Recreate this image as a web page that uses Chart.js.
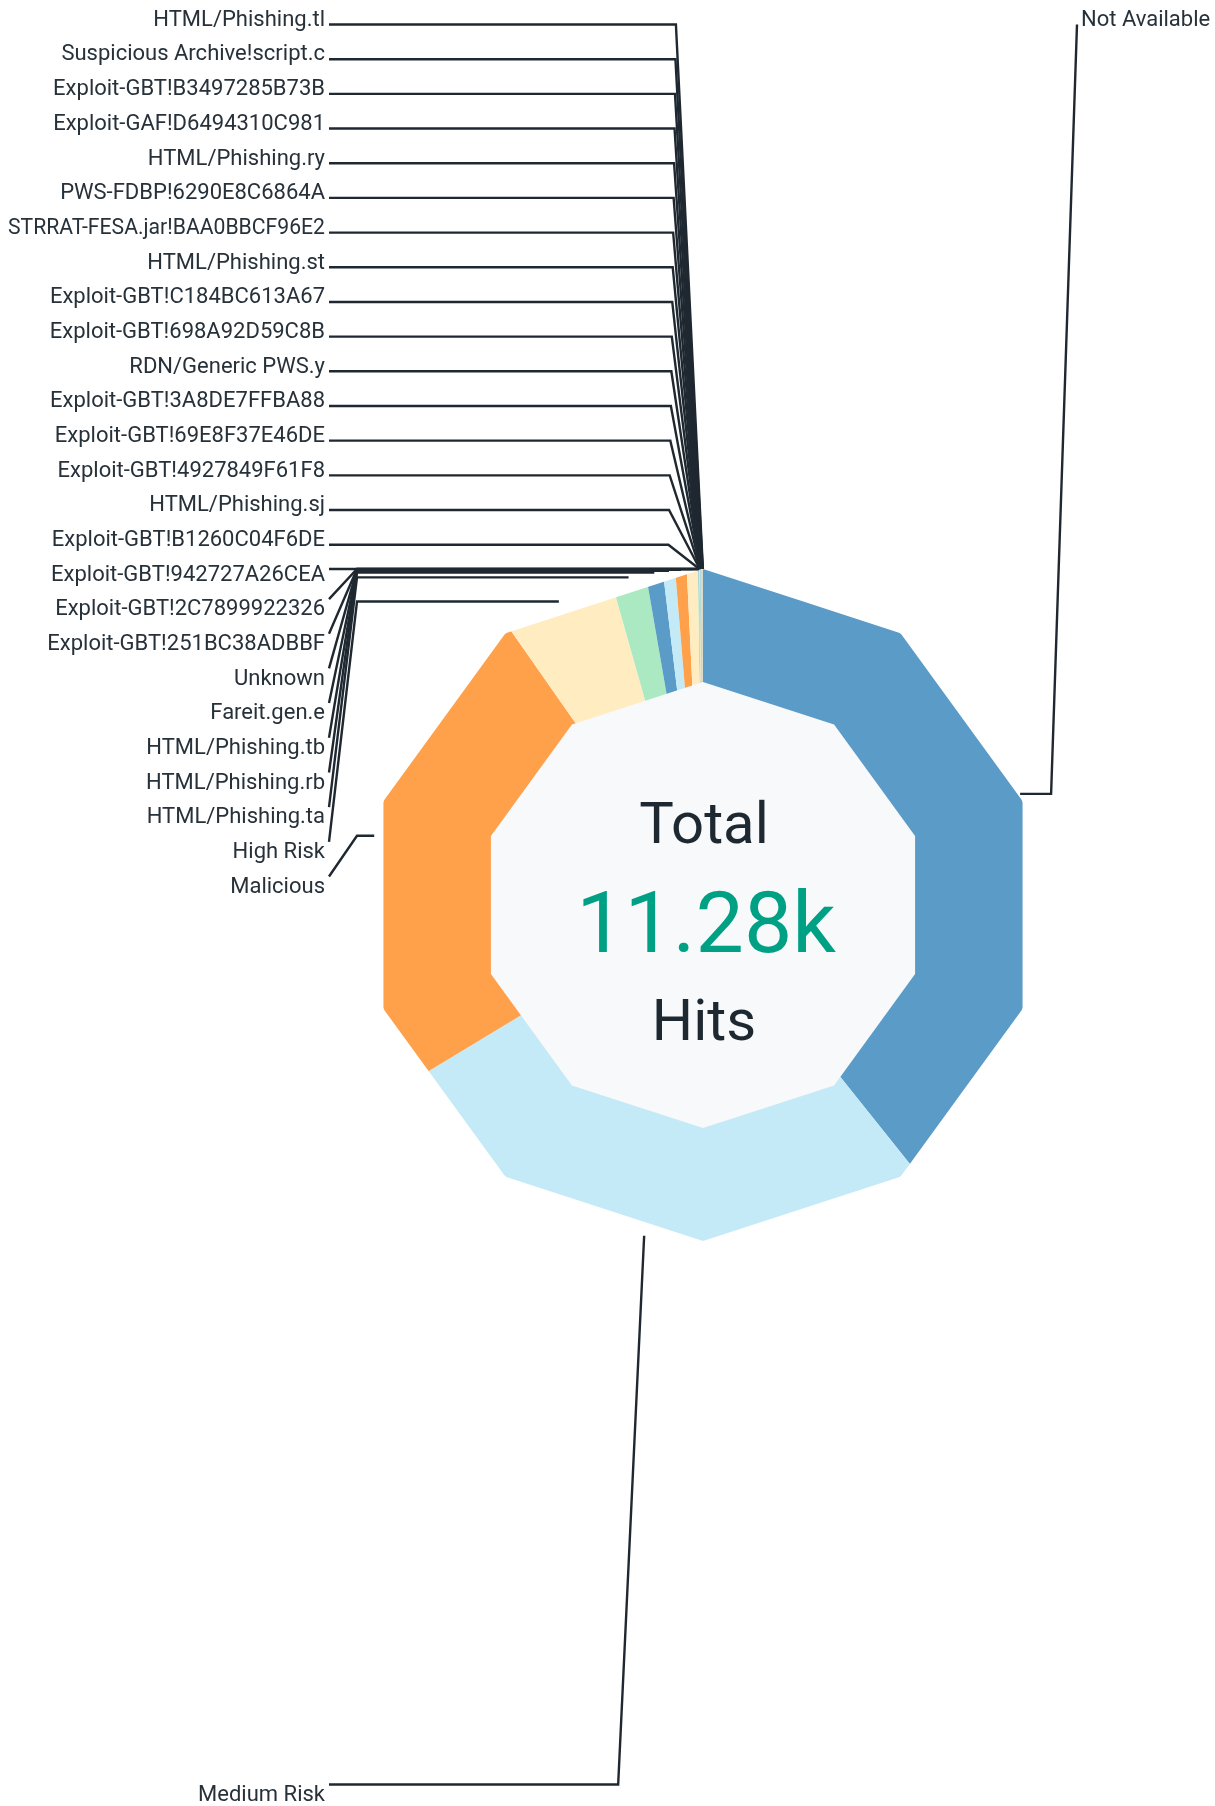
<!DOCTYPE html>
<html><head><meta charset="utf-8">
<script src="https://cdn.jsdelivr.net/npm/chart.js@4"></script>
<style>html,body{margin:0;padding:0;background:#fff}canvas{display:block}</style>
</head><body>
<canvas id="c" width="1215" height="1806"></canvas>
<script>
const categories = ['Not Available','Medium Risk','Malicious','High Risk','HTML/Phishing.ta','HTML/Phishing.rb','HTML/Phishing.tb','Fareit.gen.e','Unknown','Exploit-GBT!251BC38ADBBF','Exploit-GBT!2C7899922326','Exploit-GBT!942727A26CEA','Exploit-GBT!B1260C04F6DE','HTML/Phishing.sj','Exploit-GBT!4927849F61F8','Exploit-GBT!69E8F37E46DE','Exploit-GBT!3A8DE7FFBA88','RDN/Generic PWS.y','Exploit-GBT!698A92D59C8B','Exploit-GBT!C184BC613A67','HTML/Phishing.st','STRRAT-FESA.jar!BAA0BBCF96E2','PWS-FDBP!6290E8C6864A','HTML/Phishing.ry','Exploit-GAF!D6494310C981','Exploit-GBT!B3497285B73B','Suspicious Archive!script.c','HTML/Phishing.tl'];
const hits = [4430,3052,2701,602,188,92,66,62,60,3,2,2,2,2,2,2,1,1,1,1,1,1,1,1,1,1,1,1];
const palette = ['#5a9bc8','#c5eaf7','#ffa04b','#ffecc1','#aae9c1'];
const centerTitle = 'Total';
const centerUnit = 'Hits';

const FONT = 'Roboto, "Noto Sans", sans-serif';
const TEXT = '#27313a';
const LINE = '#1f2830';
const TEAL = '#00a085';
const LABEL_SIZE = 22;
const ROW = 34.68;

function polyPath(ctx, cx, cy, r, rad) {
  const pts = [];
  for (let k = 0; k < 10; k++) {
    const a = -Math.PI / 2 + k * Math.PI / 5;
    pts.push([cx + r * Math.cos(a), cy + r * Math.sin(a)]);
  }
  ctx.moveTo((pts[0][0] + pts[1][0]) / 2, (pts[0][1] + pts[1][1]) / 2);
  for (let k = 1; k <= 10; k++) {
    const p = pts[k % 10], n = pts[(k + 1) % 10];
    if (rad > 0) ctx.arcTo(p[0], p[1], n[0], n[1], rad); else ctx.lineTo(p[0], p[1]);
  }
  ctx.closePath();
}

function fmtTotal(v) {
  return v >= 1000 ? (v / 1000).toFixed(2) + 'k' : String(v);
}

const decagonPlugin = {
  id: 'decagon',
  beforeDatasetsDraw(chart) {
    const ctx = chart.ctx;
    const a = chart.getDatasetMeta(0).data[0];
    ctx.save();
    ctx.beginPath();
    polyPath(ctx, a.x, a.y, a.outerRadius, 5);
    ctx.clip();
  },
  afterDatasetsDraw(chart) {
    const ctx = chart.ctx;
    ctx.restore();
    const meta = chart.getDatasetMeta(0);
    const a0 = meta.data[0];
    const cx = a0.x, cy = a0.y, R = a0.outerRadius;
    // inner decagon
    ctx.save();
    ctx.beginPath();
    polyPath(ctx, cx, cy, R * 0.6637, 0);
    ctx.fillStyle = '#f7f9fb';
    ctx.fill();
    // center texts
    const total = hits.reduce((s, v) => s + v, 0);
    ctx.textAlign = 'center';
    ctx.textBaseline = 'alphabetic';
    ctx.fillStyle = '#1e2830';
    ctx.font = '400 58px ' + FONT;
    ctx.fillText(centerTitle, cx + 1, cy - 62);
    ctx.fillText(centerUnit, cx + 1, cy + 135);
    ctx.fillStyle = TEAL;
    ctx.font = '400 86px ' + FONT;
    ctx.fillText(fmtTotal(total), cx + 3, cy + 47);

    // labels
    const H = chart.height;
    const items = meta.data.map((arc, i) => {
      const mid = (arc.startAngle + arc.endAngle) / 2;
      const deg = (((mid + Math.PI / 2) * 180 / Math.PI) % 360 + 360) % 360;
      return { i, deg, ax: cx + Math.cos(mid) * R, ay: cy + Math.sin(mid) * R };
    });
    const upperLeft = items.filter(d => d.deg >= 270).sort((p, q) => q.deg - p.deg);
    const lowerLeft = items.filter(d => d.deg >= 180 && d.deg < 270).sort((p, q) => q.deg - p.deg);
    const right = items.filter(d => d.deg < 180).sort((p, q) => p.deg - q.deg);
    const top0 = 18, bottom0 = H - 13;
    const leftTextX = cx - R - 42;      // right edge of left labels
    const leftLineX = leftTextX + 4;
    const elbowColX = leftLineX + 28;
    const rightLineX = cx + R + 38;
    const maxLeftW = leftTextX - 8;

    function endY(ay, ty) {
      return ay > ty ? Math.min(ty + 6.5, ay) : Math.max(ty - 8.5, ay);
    }
    ctx.lineWidth = 2.4;
    ctx.strokeStyle = LINE;
    ctx.lineJoin = 'miter';
    ctx.font = '400 ' + LABEL_SIZE + 'px ' + FONT;
    ctx.fillStyle = TEXT;

    upperLeft.forEach((d, j) => {
      const ty = top0 + j * ROW;
      const ey = endY(d.ay, ty);
      ctx.beginPath();
      ctx.moveTo(d.ax, d.ay);
      if (ey < d.ay - 1) {
        ctx.lineTo(d.ax - 27 - j * 0.27, ey);
      } else {
        ctx.lineTo(elbowColX, d.ay);
      }
      ctx.lineTo(leftLineX, ey);
      ctx.stroke();
      ctx.textAlign = 'right';
      ctx.fillText(categories[d.i], leftTextX, ty + LABEL_SIZE * 0.355, maxLeftW);
    });
    lowerLeft.forEach((d, j) => {
      const ty = bottom0 - j * ROW;
      const ey = endY(d.ay, ty);
      ctx.beginPath();
      ctx.moveTo(d.ax, d.ay);
      ctx.lineTo(d.ax - 26, ey);
      ctx.lineTo(leftLineX, ey);
      ctx.stroke();
      ctx.textAlign = 'right';
      ctx.fillText(categories[d.i], leftTextX, ty + LABEL_SIZE * 0.355, maxLeftW);
    });
    right.forEach((d, j) => {
      const ty = top0 + j * ROW;
      const ey = endY(d.ay, ty);
      ctx.beginPath();
      ctx.moveTo(d.ax, d.ay);
      ctx.lineTo(d.ax + 31, d.ay);
      ctx.lineTo(rightLineX, ey);
      ctx.stroke();
      ctx.textAlign = 'left';
      ctx.fillText(categories[d.i], rightLineX + 4, ty + LABEL_SIZE * 0.355, chart.width - rightLineX - 6);
    });
    ctx.restore();
  }
};

new Chart(document.getElementById('c'), {
  type: 'doughnut',
  data: {
    labels: categories,
    datasets: [{
      data: hits,
      backgroundColor: categories.map((_, i) => palette[i % palette.length]),
      borderWidth: 0,
      hoverOffset: 0,
      spacing: 0
    }]
  },
  options: {
    responsive: false,
    animation: false,
    cutout: '60%',
    events: [],
    layout: { padding: { left: 367, right: 176, top: 569, bottom: 565 } },
    plugins: { legend: { display: false }, tooltip: { enabled: false } }
  },
  plugins: [decagonPlugin]
});
</script>
</body></html>
